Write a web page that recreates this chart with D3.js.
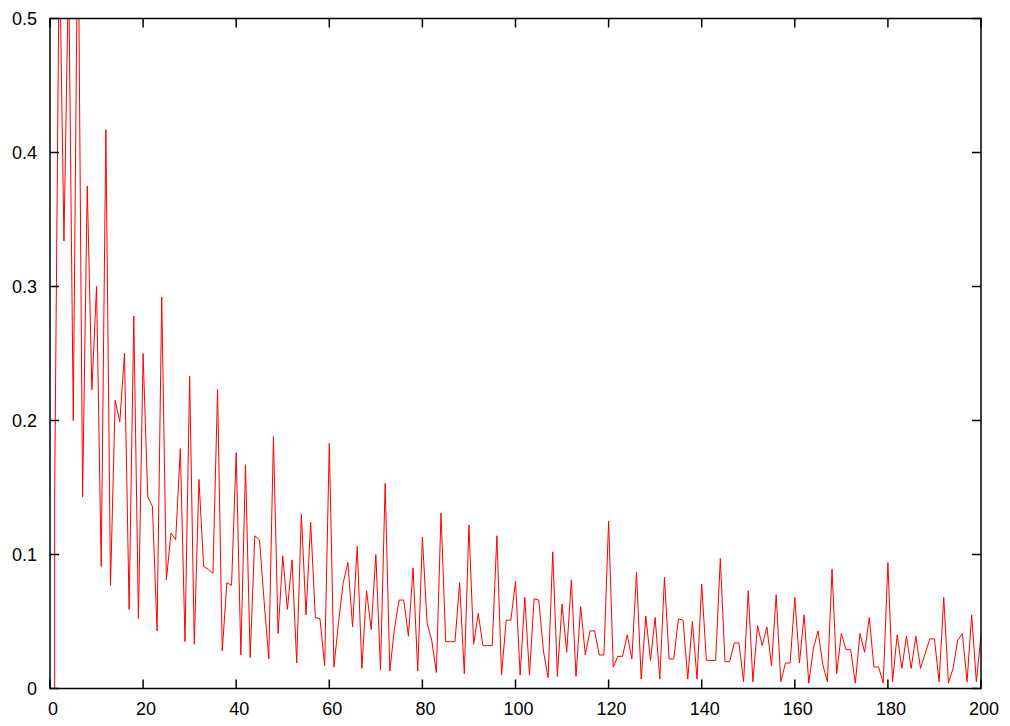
<!DOCTYPE html>
<html>
<head>
<meta charset="utf-8">
<script src="https://cdn.jsdelivr.net/npm/d3@7"></script>
<style>
  html, body { margin: 0; padding: 0; background: #fff; }
  svg { display: block; }
  text { font-family: "Liberation Sans", Arial, Helvetica, sans-serif; font-size: 18px; fill: #000; }
</style>
</head>
<body>
<svg id="chart" width="1010" height="726"></svg>
<script>
// ---- data ----
// series starts with a baseline point at x = 1
const startPoint = { x: 1, y: 0 };
// values for x = 1 .. 200
const values = [
  0.145, 0.56, 0.334, 0.54, 0.200, 0.60, 0.143, 0.375, 0.223, 0.300,
  0.091, 0.417, 0.077, 0.215, 0.199, 0.250, 0.059, 0.278, 0.052, 0.250,
  0.143, 0.136, 0.043, 0.292, 0.081, 0.116, 0.111, 0.179, 0.035, 0.233,
  0.033, 0.156, 0.091, 0.089, 0.086, 0.223, 0.028, 0.079, 0.077, 0.176,
  0.025, 0.167, 0.023, 0.114, 0.111, 0.065, 0.022, 0.188, 0.041, 0.099,
  0.059, 0.096, 0.019, 0.130, 0.055, 0.124, 0.053, 0.052, 0.017, 0.183,
  0.016, 0.050, 0.079, 0.094, 0.046, 0.106, 0.015, 0.073, 0.044, 0.100,
  0.014, 0.153, 0.013, 0.045, 0.066, 0.066, 0.039, 0.090, 0.013, 0.113,
  0.049, 0.036, 0.012, 0.131, 0.035, 0.035, 0.035, 0.079, 0.011, 0.122,
  0.033, 0.056, 0.032, 0.032, 0.032, 0.114, 0.010, 0.051, 0.051, 0.080,
  0.010, 0.068, 0.010, 0.067, 0.066, 0.028, 0.008, 0.102, 0.009, 0.063,
  0.027, 0.081, 0.009, 0.061, 0.025, 0.043, 0.043, 0.025, 0.025, 0.125,
  0.016, 0.024, 0.024, 0.040, 0.022, 0.087, 0.007, 0.054, 0.021, 0.053,
  0.007, 0.083, 0.022, 0.022, 0.052, 0.051, 0.007, 0.050, 0.007, 0.078,
  0.021, 0.021, 0.021, 0.097, 0.020, 0.020, 0.034, 0.034, 0.005, 0.073,
  0.005, 0.047, 0.032, 0.046, 0.017, 0.070, 0.005, 0.019, 0.019, 0.068,
  0.019, 0.055, 0.004, 0.030, 0.043, 0.018, 0.005, 0.089, 0.011, 0.041,
  0.029, 0.029, 0.004, 0.041, 0.027, 0.053, 0.016, 0.016, 0.004, 0.094,
  0.005, 0.040, 0.015, 0.039, 0.015, 0.039, 0.015, 0.026, 0.037, 0.037,
  0.005, 0.068, 0.004, 0.015, 0.036, 0.041, 0.005, 0.055, 0.005, 0.040
];
const xFirst = 1;
const xTicks = [0, 20, 40, 60, 80, 100, 120, 140, 160, 180, 200];
const yTicks = [0, 0.1, 0.2, 0.3, 0.4, 0.5];
const xDomain = [0, 200];
const yDomain = [0, 0.5];

// ---- layout ----
const L = 50, R = 981, T = 18.5, B = 688.5;
const svg = d3.select("#chart");
svg.append("rect").attr("width", 1010).attr("height", 726).attr("fill", "#fff");

const x = d3.scaleLinear().domain(xDomain).range([L, R]);
const y = d3.scaleLinear().domain(yDomain).range([B, T]);

const pts = [startPoint].concat(values.map((v, i) => ({ x: xFirst + i, y: v })));

svg.append("clipPath").attr("id", "clip")
  .append("rect").attr("x", L).attr("y", T).attr("width", R - L).attr("height", B - T);

svg.append("path")
  .datum(pts)
  .attr("clip-path", "url(#clip)")
  .attr("fill", "none")
  .attr("stroke", "#ff0000")
  .attr("stroke-width", 1)
  .attr("stroke-linejoin", "miter")
  .attr("d", d3.line().x(d => x(d.x)).y(d => y(d.y)));

// ticks (inward, mirrored)
const tickLen = 9;
const g = svg.append("g").attr("stroke", "#000").attr("stroke-width", 1.5);
xTicks.forEach(t => {
  g.append("line").attr("x1", x(t)).attr("x2", x(t)).attr("y1", B).attr("y2", B - tickLen);
  g.append("line").attr("x1", x(t)).attr("x2", x(t)).attr("y1", T).attr("y2", T + tickLen);
});
yTicks.forEach(t => {
  g.append("line").attr("x1", L).attr("x2", L + tickLen).attr("y1", y(t)).attr("y2", y(t));
  g.append("line").attr("x1", R).attr("x2", R - tickLen).attr("y1", y(t)).attr("y2", y(t));
});

// border
svg.append("rect")
  .attr("x", L).attr("y", T).attr("width", R - L).attr("height", B - T)
  .attr("fill", "none").attr("stroke", "#000").attr("stroke-width", 1.5);

// labels
const fmtY = d3.format("");
svg.append("g").selectAll("text").data(yTicks).join("text")
  .attr("x", 37).attr("y", d => y(d) + 6.5)
  .attr("text-anchor", "end")
  .text(d => fmtY(d));
svg.append("g").selectAll("text").data(xTicks).join("text")
  .attr("x", d => x(d) + 3).attr("y", 715)
  .attr("text-anchor", "middle")
  .text(d => d);
</script>
</body>
</html>
